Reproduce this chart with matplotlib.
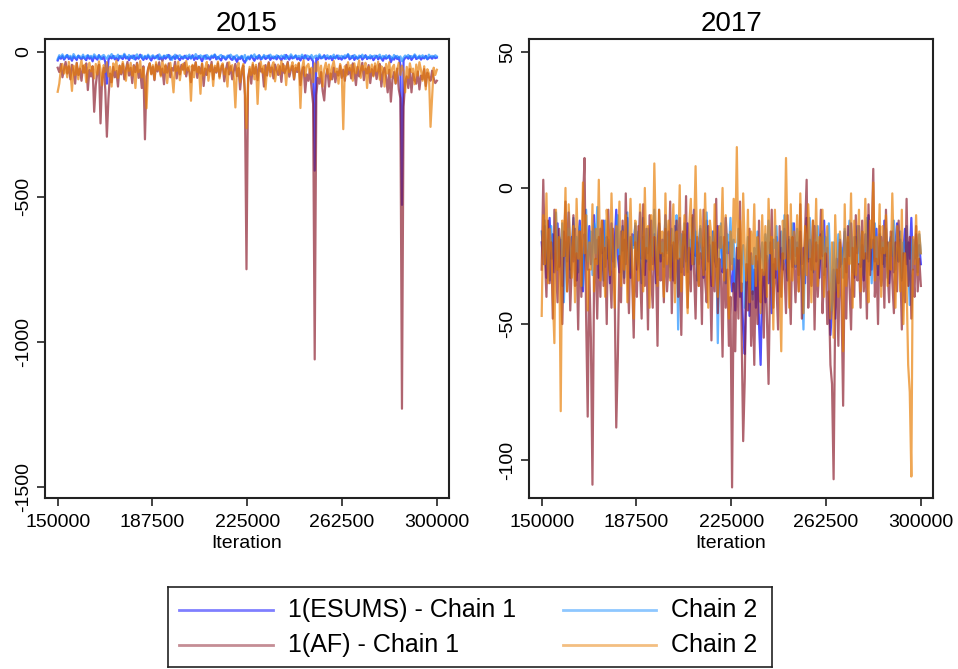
import numpy as np
import matplotlib
matplotlib.use("Agg")
import matplotlib.pyplot as plt

plt.rcParams['font.family'] = ['Liberation Sans', 'DejaVu Sans']

# kept draws run from iteration 150000 to 300000
it_start, it_end = 150000, 300000
x_ticks = [150000, 187500, 225000, 262500, 300000]

# ---- 2015 panel: trace values (approx.) ----
esums15_c1 = [
    -30, -18, -24, -15, -27, -20, -12, -25, -19, -31, -16, -22, -28, -14, -21, -26, -17, -23, -29, -13,
    -24, -19, -33, -16, -22, -27, -12, -20, -25, -18, -35, -110, -28, -17, -23, -14, -26, -21, -30, -15,
    -20, -25, -11, -23, -18, -29, -16, -22, -13, -27, -19, -24, -10, -21, -28, -17, -25, -14, -22, -30,
    -16, -23, -19, -12, -26, -20, -31, -15, -24, -18, -11, -27, -21, -16, -25, -13, -22, -29, -18, -24,
    -14, -21, -26, -17, -23, -12, -28, -19, -25, -15, -22, -33, -18, -13, -24, -20, -27, -16, -21, -11,
    -26, -18, -23, -30, -15, -21, -27, -19, -13, -24, -28, -17, -22, -35, -20, -25, -16, -29, -38, -23,
    -19, -26, -14, -22, -31, -18, -24, -12, -27, -20, -16, -25, -21, -13, -28, -19, -23, -17, -26, -15,
    -22, -29, -18, -24, -11, -20, -27, -16, -23, -19, -14, -26, -21, -30, -17, -24, -12, -22, -28, -18,
    -25, -33, -410, -21, -27, -15, -23, -19, -12, -26, -20, -24, -16, -29, -18, -22, -13, -25, -21, -27,
    -17, -23, -19, -10, -26, -22, -14, -28, -18, -24, -20, -15, -27, -21, -12, -25, -19, -23, -16, -29,
    -21, -14, -26, -18, -23, -31, -17, -24, -20, -13, -36, -22, -27, -16, -25, -19, -45, -528, -30, -21,
    -18, -24, -15, -28, -20, -13, -25, -22, -17, -27, -19, -23, -14, -26, -21, -18, -24, -16, -22, -20]
esums15_c2 = [
    -25, -12, -18, -9, -22, -15, -11, -19, -14, -24, -8, -17, -21, -13, -16, -20, -10, -23, -15, -12,
    -18, -14, -22, -9, -16, -20, -12, -26, -15, -11, -19, -24, -13, -17, -8, -21, -15, -19, -10, -23,
    -14, -18, -7, -16, -22, -11, -19, -13, -25, -15, -9, -20, -17, -12, -23, -14, -18, -10, -21, -16,
    -12, -19, -15, -24, -9, -17, -21, -13, -16, -11, -20, -14, -28, -18, -10, -22, -15, -12, -19, -17,
    -21, -13, -17, -10, -23, -15, -19, -8, -16, -22, -12, -18, -14, -25, -11, -17, -20, -13, -16, -9,
    -18, -24, -14, -11, -20, -16, -22, -13, -19, -10, -17, -26, -15, -12, -21, -18, -14, -23, -11, -30,
    -16, -20, -12, -18, -9, -22, -15, -13, -19, -24, -11, -17, -14, -21, -10, -18, -16, -23, -12, -15,
    -20, -13, -17, -11, -25, -15, -19, -9, -16, -22, -12, -18, -14, -20, -10, -17, -23, -13, -15, -19,
    -11, -24, -16, -13, -20, -9, -18, -22, -14, -17, -12, -21, -15, -19, -10, -23, -16, -13, -18, -14,
    -22, -12, -17, -8, -19, -15, -21, -11, -16, -24, -13, -18, -10, -20, -14, -17, -22, -12, -19, -15,
    -13, -20, -16, -10, -23, -14, -18, -12, -21, -15, -17, -25, -11, -19, -14, -22, -16, -33, -20, -13,
    -17, -11, -21, -15, -19, -9, -16, -22, -13, -18, -12, -20, -15, -24, -10, -17, -14, -19, -12, -16]
af15_c1 = [
    -55, -70, -42, -88, -60, -35, -75, -50, -95, -45, -65, -110, -38, -80, -58, -100, -48, -72, -40, -132,
    -62, -85, -50, -207, -115, -70, -45, -247, -90, -55, -130, -293, -160, -75, -105, -52, -88, -66, -120, -48,
    -78, -42, -95, -60, -35, -82, -55, -108, -46, -70, -38, -90, -62, -125, -50, -302, -85, -58, -40, -76,
    -52, -98, -44, -68, -36, -80, -58, -112, -48, -72, -40, -88, -56, -65, -34, -92, -50, -78, -45, -62,
    -38, -85, -55, -70, -105, -48, -64, -36, -90, -52, -75, -42, -118, -58, -80, -46, -68, -35, -95, -54,
    -72, -40, -86, -58, -45, -102, -62, -38, -78, -50, -95, -66, -42, -84, -56, -130, -70, -48, -150, -750,
    -88, -60, -110, -45, -76, -52, -98, -40, -68, -58, -120, -46, -82, -36, -70, -54, -92, -44, -64, -80,
    -50, -104, -42, -74, -58, -35, -86, -62, -48, -96, -55, -70, -40, -115, -66, -52, -140, -78, -100, -60,
    -125, -180, -1061, -150, -90, -110, -70, -135, -168, -85, -60, -120, -75, -95, -55, -105, -68, -82, -48, -90,
    -62, -100, -45, -78, -56, -92, -40, -70, -115, -52, -85, -65, -38, -98, -58, -75, -46, -108, -60, -82,
    -50, -94, -66, -42, -120, -72, -55, -88, -140, -62, -172, -95, -70, -110, -58, -130, -160, -1231, -190, -105,
    -85, -125, -60, -140, -75, -98, -110, -68, -130, -82, -95, -60, -118, -72, -88, -100, -65, -92, -108, -100]
af15_c2 = [
    -138, -110, -60, -42, -75, -50, -88, -35, -66, -135, -48, -80, -40, -95, -55, -30, -72, -45, -105, -58,
    -38, -68, -50, -92, -42, -78, -33, -60, -115, -46, -70, -36, -85, -52, -120, -40, -64, -30, -90, -48,
    -74, -35, -58, -100, -44, -66, -38, -82, -50, -125, -42, -70, -32, -88, -55, -110, -195, -60, -40, -78,
    -46, -95, -36, -62, -50, -85, -30, -72, -44, -108, -55, -38, -80, -140, -48, -66, -34, -98, -58, -42,
    -76, -32, -64, -50, -169, -45, -88, -38, -70, -52, -145, -40, -82, -56, -35, -100, -60, -44, -118, -48,
    -68, -34, -92, -50, -40, -78, -58, -120, -36, -65, -46, -86, -192, -55, -38, -105, -62, -42, -130, -264,
    -110, -52, -80, -38, -95, -45, -180, -60, -34, -72, -48, -130, -56, -40, -85, -50, -36, -102, -62, -44,
    -78, -32, -66, -48, -115, -40, -70, -55, -36, -92, -45, -62, -38, -194, -58, -30, -84, -50, -42, -72,
    -55, -105, -40, -68, -34, -88, -48, -120, -60, -38, -76, -44, -96, -52, -32, -70, -58, -110, -42, -65,
    -267, -50, -82, -36, -64, -46, -100, -40, -74, -55, -30, -90, -48, -62, -38, -125, -52, -70, -44, -85,
    -40, -68, -34, -96, -50, -58, -120, -42, -75, -36, -88, -54, -45, -108, -60, -38, -80, -48, -66, -140,
    -52, -90, -40, -70, -58, -112, -44, -82, -36, -64, -100, -50, -130, -60, -75, -259, -160, -55, -80, -62]

# ---- 2017 panel ----
esums17_c1 = [
    -20, -28, -14, -33, -22, -11, -26, -17, -31, -24, -13, -29, -19, -36, -16, -25, -21, -9, -30, -18,
    -27, -15, -34, -20, -12, -25, -38, -17, -23, -30, -14, -28, -21, -10, -26, -19, -33, -15, -24, -12,
    -29, -18, -22, -35, -13, -27, -20, -8, -25, -31, -16, -23, -19, -28, -11, -26, -33, -17, -21, -14,
    -30, -22, -9, -26, -18, -32, -15, -24, -20, -12, -28, -17, -35, -21, -13, -27, -19, -25, -10, -23,
    -16, -29, -21, -34, -14, -26, -19, -11, -31, -22, -17, -27, -13, -24, -30, -18, -8, -25, -20, -28,
    -15, -23, -33, -19, -12, -27, -21, -36, -16, -25, -29, -14, -22, -18, -31, -26, -11, -24, -20, -32,
    -38, -26, -45, -30, -22, -40, -35, -52, -61, -33, -28, -47, -24, -39, -30, -44, -27, -50, -65, -36,
    -31, -42, -25, -35, -20, -46, -28, -33, -18, -38, -26, -22, -30, -15, -27, -34, -19, -24, -29, -13,
    -25, -20, -32, -16, -28, -22, -35, -11, -26, -19, -30, -23, -14, -27, -21, -33, -17, -25, -12, -29,
    -22, -38, -54, -44, -30, -48, -26, -35, -19, -28, -23, -16, -31, -20, -25, -13, -27, -33, -18, -24,
    -14, -29, -21, -34, -17, -26, -10, -23, -30, -19, -27, -15, -32, -22, -18, -28, -12, -25, -20, -35,
    -24, -16, -31, -21, -13, -27, -19, -33, -23, -15, -28, -20, -26, -11, -30, -22, -17, -25, -21, -28]
esums17_c2 = [
    -16, -24, -12, -29, -19, -34, -14, -26, -21, -9, -30, -18, -25, -13, -42, -20, -27, -15, -33, -22,
    -11, -25, -18, -31, -14, -23, -36, -19, -8, -27, -21, -16, -32, -13, -24, -7, -28, -20, -17, -34,
    -12, -26, -19, -30, -15, -22, -29, -17, -10, -27, -23, -14, -33, -20, -9, -25, -31, -18, -22, -13,
    -28, -16, -24, -35, -11, -21, -27, -15, -30, -19, -25, -8, -23, -32, -14, -26, -20, -29, -12, -24,
    -18, -33, -15, -27, -21, -10, -52, -22, -17, -29, -13, -25, -31, -19, -23, -11, -28, -16, -34, -20,
    -14, -26, -22, -30, -9, -24, -18, -32, -16, -27, -20, -57, -25, -13, -29, -21, -35, -17, -23, -11,
    -28, -19, -38, -24, -15, -33, -27, -21, -44, -30, -18, -36, -25, -41, -22, -29, -16, -34, -26, -20,
    -31, -17, -27, -12, -25, -36, -19, -22, -14, -30, -24, -16, -28, -10, -23, -33, -18, -26, -13, -21,
    -29, -15, -24, -20, -34, -52, -22, -17, -27, -11, -25, -31, -19, -23, -14, -28, -21, -16, -32, -18,
    -24, -13, -30, -45, -20, -38, -26, -17, -29, -22, -33, -15, -27, -19, -12, -25, -31, -18, -23, -14,
    -28, -21, -16, -32, -24, -11, -27, -19, -35, -22, -13, -26, -30, -17, -24, -20, -29, -15, -33, -21,
    -18, -25, -12, -30, -22, -27, -16, -34, -20, -24, -14, -29, -43, -23, -19, -26, -21, -31, -17, -24]
af17_c1 = [
    -30, 3, -25, -40, -12, -35, -20, -48, -8, -28, -42, -15, -33, -50, -22, -5, -38, -18, -45, -27,
    -10, -36, -24, -52, -16, -40, -6, 11, -47, -84, -30, -55, -109, -34, -26, -48, -18, -40, -12, -36,
    -22, -50, -8, -30, -44, -15, -38, -88, -62, -25, -42, -12, -35, -2, -28, -46, -18, -33, -55, -20,
    -40, -14, -30, -48, -6, -36, -22, -52, -10, -32, -44, -18, -26, -58, -8, -34, -24, -42, -15, -38,
    -28, -5, -46, -20, -35, -12, -40, -26, -54, -16, -32, -3, -44, -22, -38, -10, -30, -48, -18, -36,
    -24, -50, -8, -34, -42, -14, -28, -56, -20, -38, -4, -46, -26, -32, -62, -18, -44, -30, -58, -40,
    -110, -35, -60, -22, -48, -5, -52, -93, -70, -28, -45, -15, -58, -38, -65, -25, -50, -12, -42, -30,
    -55, -20, -48, -72, -32, -8, -44, -26, -36, -52, -14, -40, -24, -30, -46, -10, -34, -50, -18, -28,
    -42, -22, -38, -6, -48, -30, -16, 3, -44, -26, -36, -12, -52, -20, -40, -28, -8, -46, -32, -24,
    -50, -38, -65, -72, -107, -45, -30, -58, -20, -42, -80, -26, -48, -14, -36, -52, -22, -40, -10, -34,
    -28, -44, -12, -38, -24, -48, -6, -32, -18, 7, -40, -26, -50, -14, -36, -22, -44, -8, -30, -42,
    -16, -34, -46, -20, -38, -12, -28, -52, -24, -42, -4, -36, -18, -48, -30, -40, -14, -38, -26, -36]
af17_c2 = [
    -47, -10, -28, -2, -35, -15, -22, -40, -57, -8, -30, -18, -82, -12, -25, 0, -38, -6, -20, -33,
    -14, -42, -4, -26, -16, -36, 2, -24, -10, -45, -20, -30, -6, -38, -15, -28, 3, -34, -12, -22,
    -40, -8, -18, -32, -2, -26, -44, -14, -22, -5, -36, -16, -30, -10, -42, -20, -4, -28, -48, -12,
    -24, -34, -6, -18, -38, 0, -26, -14, -44, -10, -30, 9, -20, -36, -8, -24, -16, -40, -2, -28,
    -12, -34, -20, -6, -42, -16, -26, 1, -38, -22, -10, -30, -46, -14, -4, -28, -18, 8, -24, -36,
    -8, -20, -32, -2, -26, -44, -12, -18, -36, -6, -28, -40, -14, -22, 0, -34, -10, -24, -48, -16,
    -30, -4, -20, 15, -26, -12, -38, -2, -22, -34, -8, -42, -16, -28, -6, -36, -18, -24, -46, -10,
    -32, -14, -40, -4, -24, -18, -52, -8, -30, -20, -36, -60, -12, -26, 11, -22, -44, -6, -34, -16,
    -28, -10, -38, -2, -24, -46, -14, -32, -6, -20, -42, -12, -30, -4, -36, -18, -26, -8, -40, -22,
    -14, -34, -48, -20, -55, -10, -30, -40, -16, -26, -60, -6, -36, -18, -28, -2, -44, -12, -32, -22,
    -8, -38, -16, -26, -4, -30, -42, -12, -22, 2, -34, -18, -28, -6, -40, -14, -24, -10, -36, -20,
    -30, -2, -26, -44, -14, -20, -38, -8, -50, -24, -35, -65, -75, -106, -18, -28, -10, -32, -16, -24]

series_colors = ['#0000ff', '#1e90ff', '#8b1c2c', '#e87e04']
series_labels = ['1(ESUMS) - Chain 1', 'Chain 2', '1(AF) - Chain 1', 'Chain 2']
line_alpha = 0.68

W, H = 958, 669
fig = plt.figure(figsize=(W / 100, H / 100), dpi=100)


def trace_panel(rect, title, chains, ylim, yticks):
    ax = fig.add_axes(rect)
    for vals, col in zip(chains, series_colors):
        iters = np.linspace(it_start, it_end, len(vals))
        ax.plot(iters, vals, color=col, alpha=line_alpha, lw=1.6)
    ax.set_xlim(144980, 304800)
    ax.set_ylim(*ylim)
    ax.set_xticks(x_ticks)
    ax.set_xticklabels([str(t) for t in x_ticks])
    ax.set_yticks(yticks)
    ax.set_yticklabels([str(t) for t in yticks], rotation=90, va='center')
    ax.tick_params(axis='both', labelsize=14, length=6, width=1.2, color='#222222', pad=3.5)
    ax.tick_params(axis='x', pad=5.5)
    for sp in ax.spines.values():
        sp.set_linewidth(1.5)
        sp.set_color('#222222')
    ax.set_title(title, fontsize=20, pad=6)
    ax.set_xlabel('Iteration', fontsize=14, labelpad=3)
    return ax


ax_bottom, ax_top = 498.3, 39.3
trace_panel([45 / W, 1 - ax_bottom / H, 404 / W, (ax_bottom - ax_top) / H], '2015',
            [esums15_c1, esums15_c2, af15_c1, af15_c2],
            (-1540, 43), [0, -500, -1000, -1500])
trace_panel([529 / W, 1 - ax_bottom / H, 404 / W, (ax_bottom - ax_top) / H], '2017',
            [esums17_c1, esums17_c2, af17_c1, af17_c2],
            (-114, 54.6), [50, 0, -50, -100])

# legend box in its own axes (two columns, second column right aligned)
lx0, ly0, lx1, ly1 = 168, 587, 772, 667
lax = fig.add_axes([lx0 / W, 1 - ly1 / H, (lx1 - lx0) / W, (ly1 - ly0) / H])
lax.set_xlim(lx0, lx1)
lax.set_ylim(ly1, ly0)
lax.set_xticks([])
lax.set_yticks([])
for sp in lax.spines.values():
    sp.set_linewidth(1.2)
    sp.set_color('#222222')
rows = [610, 645, 610, 645]
for i, (lab, col) in enumerate(zip(series_labels, series_colors)):
    r = rows[[0, 2, 1, 3][i]]
    if i % 2 == 0:
        lax.plot([179, 273], [r, r], color=col, alpha=0.5, lw=2)
        lax.text(288, r, lab, fontsize=18, va='center', ha='left')
    else:
        lax.plot([563, 656], [r, r], color=col, alpha=0.5, lw=2)
        lax.text(757, r, lab, fontsize=18, va='center', ha='right')

fig.savefig('out.png', dpi=100)
